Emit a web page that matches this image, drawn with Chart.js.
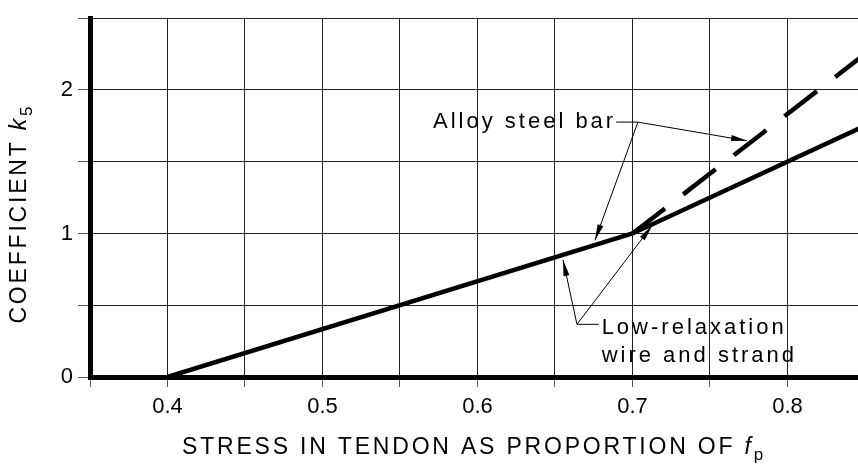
<!DOCTYPE html>
<html>
<head>
<meta charset="utf-8">
<script src="https://cdn.jsdelivr.net/npm/chart.js@4.4.1/dist/chart.umd.min.js"></script>
<style>
html, body { margin: 0; padding: 0; background: #fff; overflow: hidden; }
</style>
</head>
<body>
<canvas id="myChart" width="858" height="465"></canvas>
<script>
// low-relaxation wire and strand (solid)
var stress = [0.4, 0.7, 0.85];
var lowRelax = [0, 1, 1.75];
// alloy steel bar above 0.7 (dashed)
var barStress = [0.7, 0.85];
var alloyBar = [1, 2.25];

// grid and tick labels
var xGrid = [0.35, 0.4, 0.45, 0.5, 0.55, 0.6, 0.65, 0.7, 0.75, 0.8];
var yGrid = [0, 0.5, 1, 1.5, 2, 2.5];
var xTicks = [0.4, 0.5, 0.6, 0.7, 0.8];
var xTickLabels = ['0.4', '0.5', '0.6', '0.7', '0.8'];
var yTicks = [0, 1, 2];
var yTickLabels = ['0', '1', '2'];

var FONT = '"Liberation Sans", Arial, Helvetica, sans-serif';

// labels with leader arrows (data units)
var notes = [
    {lines: ['Alloy steel bar'], x: 0.5713, y: [1.735], jx: 0.7035, jy: 1.776,
     tips: [[0.7739, 1.646], [0.6758, 0.952]]},
    {lines: ['Low-relaxation', 'wire and strand'], x: 0.6801, y: [0.299, 0.102], jx: 0.6642, jy: 0.367,
     tips: [[0.6552, 0.816], [0.7126, 1.054]]}
];

function toPts(xs, ys) {
    var out = [];
    for (var i = 0; i < xs.length; i++) out.push({x: xs[i], y: ys[i]});
    return out;
}

function arrow(ctx, x0, y0, x1, y1) {
    ctx.beginPath();
    ctx.moveTo(x0, y0);
    ctx.lineTo(x1, y1);
    ctx.stroke();
    var a = Math.atan2(y1 - y0, x1 - x0), L = 16, W = 3;
    ctx.beginPath();
    ctx.moveTo(x1, y1);
    ctx.lineTo(x1 - L * Math.cos(a) + W * Math.sin(a), y1 - L * Math.sin(a) - W * Math.cos(a));
    ctx.lineTo(x1 - L * Math.cos(a) - W * Math.sin(a), y1 - L * Math.sin(a) + W * Math.cos(a));
    ctx.closePath();
    ctx.fill();
}

// draws text pieces one after the other, returns total width
function richText(ctx, parts, x, y, draw) {
    var w = 0;
    parts.forEach(function (p) {
        ctx.font = p.font;
        if (draw) ctx.fillText(p.t, x + w, y + (p.dy || 0));
        w += ctx.measureText(p.t).width;
    });
    return w;
}

var notesPlugin = {
    id: 'notes',
    afterDatasetsDraw: function (chart) {
        var ctx = chart.ctx, sx = chart.scales.x, sy = chart.scales.y;
        ctx.save();
        ctx.fillStyle = '#000';
        ctx.strokeStyle = '#000';
        ctx.lineWidth = 1;
        ctx.font = '22px ' + FONT;
        ctx.letterSpacing = '3px';
        ctx.textBaseline = 'alphabetic';
        ctx.textAlign = 'left';
        notes.forEach(function (n) {
            var tx = sx.getPixelForValue(n.x);
            var jx = sx.getPixelForValue(n.jx), jy = sy.getPixelForValue(n.jy);
            n.lines.forEach(function (l, i) {
                ctx.fillText(l, tx, sy.getPixelForValue(n.y[i]));
            });
            // short horizontal tail between text and junction
            var ex;
            if (jx > tx) ex = tx + ctx.measureText(n.lines[0]).width;
            else ex = tx - 3;
            ctx.beginPath();
            ctx.moveTo(ex, jy);
            ctx.lineTo(jx, jy);
            ctx.stroke();
            n.tips.forEach(function (t) {
                arrow(ctx, jx, jy, sx.getPixelForValue(t[0]), sy.getPixelForValue(t[1]));
            });
        });
        ctx.restore();
    },
    afterDraw: function (chart) {
        var ctx = chart.ctx, area = chart.chartArea;
        ctx.save();
        ctx.fillStyle = '#000';
        ctx.letterSpacing = '2.8px';
        ctx.textBaseline = 'alphabetic';
        ctx.textAlign = 'left';
        // x axis title
        var xp = [
            {t: 'STRESS IN TENDON AS PROPORTION OF ', font: '23px ' + FONT},
            {t: 'f', font: 'italic 23px ' + FONT},
            {t: 'p', font: '17px ' + FONT, dy: 6}
        ];
        var w = richText(ctx, xp, 0, 0, false);
        richText(ctx, xp, (area.left + area.right) / 2 - w / 2, 454, true);
        // y axis title
        var yp = [
            {t: 'COEFFICIENT ', font: '23px ' + FONT},
            {t: 'k', font: 'italic 23px ' + FONT},
            {t: '5', font: '17px ' + FONT, dy: 6}
        ];
        ctx.translate(26, 0);
        ctx.rotate(-Math.PI / 2);
        w = richText(ctx, yp, 0, 0, false);
        richText(ctx, yp, -(area.top + area.bottom) / 2 - 16 - w / 2, 0, true);
        ctx.restore();
    }
};

function pickLabel(list, labels, v) {
    for (var i = 0; i < list.length; i++) {
        if (Math.abs(list[i] - v) < 1e-6) return labels[i];
    }
    return '';
}

var ctx = document.getElementById('myChart');
var myChart = new Chart(ctx, {
    type: 'line',
    data: {
        datasets: [{
            label: 'Low-relaxation wire and strand',
            data: toPts(stress, lowRelax),
            borderColor: '#000',
            borderWidth: 4.5,
            pointRadius: 0,
            tension: 0
        }, {
            label: 'Alloy steel bar',
            data: toPts(barStress, alloyBar),
            borderColor: '#000',
            borderWidth: 4.5,
            borderDash: [41, 23],
            borderCapStyle: 'butt',
            pointRadius: 0,
            tension: 0
        }]
    },
    options: {
        responsive: false,
        animation: false,
        layout: {padding: {top: 10, left: 0, right: 0, bottom: 0}},
        plugins: {legend: {display: false}, tooltip: {enabled: false}},
        scales: {
            x: {
                type: 'linear',
                min: 0.35,
                max: 0.8455,
                afterBuildTicks: function (s) {
                    s.ticks = xGrid.map(function (v) { return {value: v}; });
                },
                afterFit: function (s) { s.height = 88; },
                grid: {color: '#222', lineWidth: 1, tickLength: 10, tickColor: '#555'},
                border: {display: true, color: '#000', width: 5},
                ticks: {
                    color: '#000',
                    autoSkip: false,
                    maxRotation: 0,
                    padding: 7,
                    font: {family: FONT, size: 22},
                    callback: function (v) { return pickLabel(xTicks, xTickLabels, v); }
                }
            },
            y: {
                min: 0,
                max: 2.5,
                afterBuildTicks: function (s) {
                    s.ticks = yGrid.map(function (v) { return {value: v}; });
                },
                afterFit: function (s) { s.width = 90; },
                grid: {color: '#222', lineWidth: 1, tickLength: 12, tickColor: '#555'},
                border: {display: true, color: '#000', width: 5},
                ticks: {
                    color: '#000',
                    autoSkip: false,
                    padding: 5,
                    font: {family: FONT, size: 22},
                    callback: function (v) { return pickLabel(yTicks, yTickLabels, v); }
                }
            }
        }
    },
    plugins: [notesPlugin]
});
</script>
</body>
</html>
